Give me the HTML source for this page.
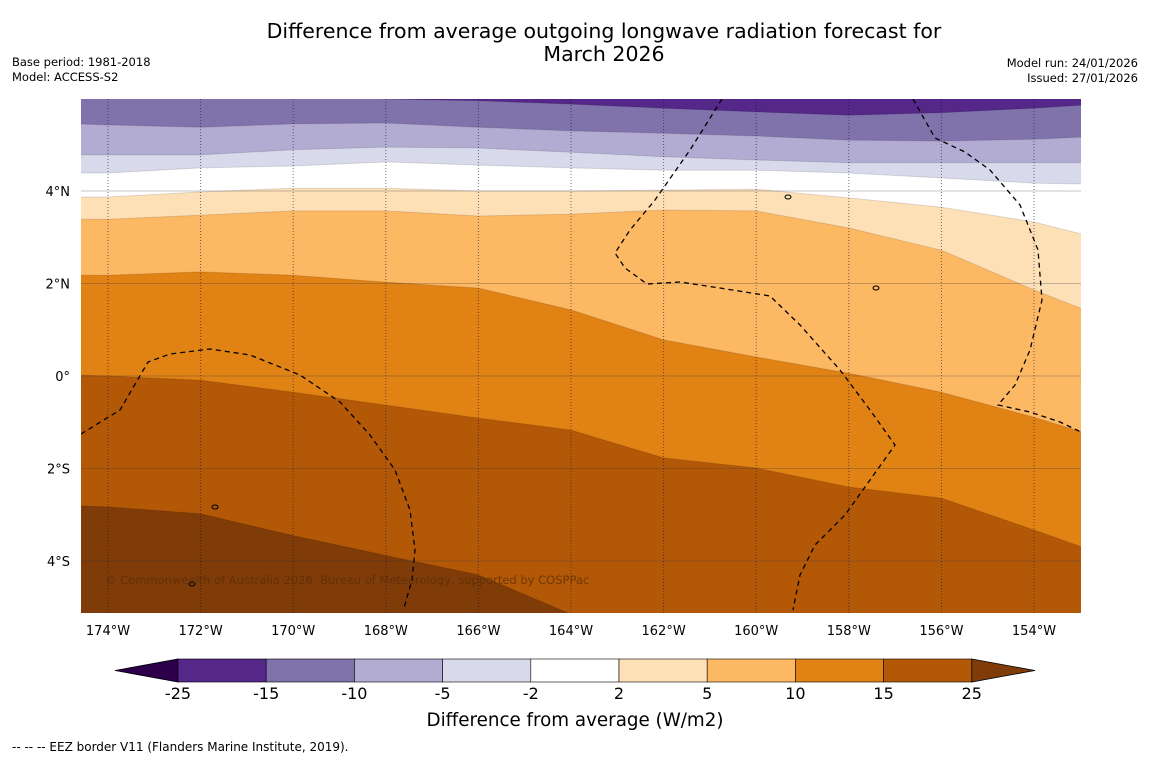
<!DOCTYPE html>
<html><head><meta charset="utf-8"><style>
body{margin:0;background:#fff;width:1150px;height:758px;overflow:hidden;font-family:"DejaVu Sans","Liberation Sans",sans-serif;}
</style></head><body>
<svg id="chart" width="1150" height="758" xmlns="http://www.w3.org/2000/svg" font-family="DejaVu Sans, Liberation Sans, sans-serif">
<text x="604" y="38" font-size="20.5" text-anchor="middle">Difference from average outgoing longwave radiation forecast for</text>
<text x="604" y="61" font-size="20.5" text-anchor="middle">March 2026</text>
<text x="12" y="66" font-size="11.5">Base period: 1981-2018</text>
<text x="12" y="81" font-size="11.5">Model: ACCESS-S2</text>
<text x="1138" y="67" font-size="11.5" text-anchor="end">Model run: 24/01/2026</text>
<text x="1138" y="82" font-size="11.5" text-anchor="end">Issued: 27/01/2026</text>
<defs><clipPath id="mapclip"><rect x="81" y="99" width="1000" height="514"/></clipPath></defs>
<g id="map" clip-path="url(#mapclip)"></g>
<g id="axes"></g>
<text x="105" y="584" font-size="11.5" fill="#5a2e05" fill-opacity="0.75">© Commonwealth of Australia 2026, Bureau of Meteorology, supported by COSPPac</text>
<g id="cbar"></g>
<text x="575" y="726" font-size="18.3" text-anchor="middle">Difference from average (W/m2)</text>
<text x="12" y="751" font-size="12">--  --  -- EEZ border V11 (Flanders Marine Institute, 2019).</text>
</svg>
<script>
const lons = [-174.6,-174,-172,-170,-168,-166,-164,-162,-160,-158,-156,-154,-152.9];
const levels = [-25,-15,-10,-5,-2,2,5,10,15,25];
const latM15 = [6.1,6.1,6.1,6.1,5.99,5.95,5.88,5.79,5.71,5.64,5.69,5.79,5.86];
const latM10 = [5.45,5.43,5.38,5.45,5.47,5.38,5.30,5.25,5.19,5.10,5.08,5.12,5.17];
const latM5 = [4.78,4.78,4.78,4.89,4.95,4.93,4.84,4.74,4.67,4.61,4.61,4.61,4.61];
const latM2 = [4.39,4.39,4.50,4.54,4.63,4.56,4.50,4.45,4.45,4.39,4.28,4.17,4.15];
const latP2 = [3.87,3.87,3.98,4.06,4.06,4.00,4.00,4.02,4.04,3.85,3.65,3.33,3.05];
const latP5 = [3.39,3.39,3.48,3.57,3.57,3.46,3.50,3.59,3.57,3.20,2.72,1.86,1.43];
const latP10 = [2.18,2.18,2.25,2.18,2.03,1.90,1.43,0.78,0.41,0.06,-0.35,-0.89,-1.23];
const latP15 = [0.02,0.0,-0.09,-0.35,-0.63,-0.91,-1.17,-1.77,-1.99,-2.40,-2.64,-3.33,-3.72];
const latP25 = [-2.81,-2.83,-2.98,-3.45,-3.88,-4.30,-5.15,-5.7,-5.9,-5.9,-5.9,-5.9,-5.9];
const bandColors = ["#2d004b","#542788","#8073ac","#b2abd2","#d8daeb","#ffffff","#fee0b6","#fdb863","#e08214","#b35806","#7f3b08"];
const lonTicks = [-174,-172,-170,-168,-166,-164,-162,-160,-158,-156,-154];
const latTicks = [4,2,0,-2,-4];
const cbarLabels = ["-25","-15","-10","-5","-2","2","5","10","15","25"];

const NS="http://www.w3.org/2000/svg";
const X = lon => 108 + (lon + 174) * 46.3;
const Y = lat => 191 - (lat - 4) * 46.25;
function mk(tag, attrs, parent){const e=document.createElementNS(NS,tag);for(const k in attrs)e.setAttribute(k,attrs[k]);parent.appendChild(e);return e;}
const map=document.getElementById('map'), axes=document.getElementById('axes'), cbar=document.getElementById('cbar');

const bg = mk('rect',{x:81,y:99,width:1000,height:514,fill:bandColors[1]},map);


const bounds=[latM15,latM10,latM5,latM2,latP2,latP5,latP10,latP15,latP25];
const bnames=['minus15','minus10','minus5','minus2','plus2','plus5','plus10','plus15','plus25'];
bounds.forEach((lats,i)=>{
  let d='M'+X(lons[0])+','+Y(lats[0]);
  for(let j=1;j<lons.length;j++) d+=' L'+X(lons[j]).toFixed(1)+','+Y(lats[j]).toFixed(1);
  d+=' L'+X(lons[lons.length-1])+',700 L'+X(lons[0])+',700 Z';
  const p=mk('path',{d:d,fill:bandColors[i+2],stroke:'rgba(0,0,0,0.12)','stroke-width':1},map);
  
  
});
latTicks.forEach(l=>{
  const g=mk('line',{x1:81,x2:1081,y1:Y(l),y2:Y(l),stroke:'rgba(60,60,80,0.3)','stroke-width':1},map);
  
  
});
lonTicks.forEach(l=>{
  const g=mk('line',{x1:X(l),x2:X(l),y1:99,y2:613,stroke:'rgba(20,20,60,0.6)','stroke-width':1,'stroke-dasharray':'1,2'},map);
  
  
});
const eez=["M81,434 L120,410 L148,362 L170,354 L210,349 L250,355 L300,375 L340,402 L370,435 L395,470 L410,510 L415,550 L412,580 L404,608",
"M722,99 L690,150 L655,200 L630,230 L615,253 L625,268 L647,284 L680,282 L720,288 L770,296 L800,325 L840,370 L870,410 L895,445 L870,480 L845,515 L815,545 L800,575 L793,610",
"M913,99 L935,138 L965,152 L990,170 L1020,205 L1038,250 L1042,300 L1030,350 L1015,385 L998,405 L1030,412 L1060,422 L1081,432"];
eez.forEach(d=>{
  const p=mk('path',{d:d,fill:'none',stroke:'#000','stroke-width':1.3,'stroke-dasharray':'5,4'},map);
  
  
});
[[788,197],[876,288],[215,507],[192,584]].forEach(c=>{
  const e=mk('ellipse',{cx:c[0],cy:c[1],rx:3,ry:2,fill:'none',stroke:'#000','stroke-width':1},map);
  
  
});
latTicks.forEach(l=>{
  const t=mk('text',{x:70,y:Y(l)+5,'font-size':13,'text-anchor':'end'},axes);
  t.textContent = l===0?'0°':(Math.abs(l)+'°'+(l>0?'N':'S'));
  
  
});
lonTicks.forEach(l=>{
  const t=mk('text',{x:X(l),y:635,'font-size':13,'text-anchor':'middle'},axes);
  t.textContent = Math.abs(l)+'°W';
  
  
});
const cx0=178, cw=88.2, cy=659, ch=23;
const lt=mk('polygon',{points:`115,${cy+ch/2} ${cx0},${cy} ${cx0},${cy+ch}`,fill:bandColors[0],stroke:'#000','stroke-width':0.8},cbar);


for(let i=0;i<9;i++){
  const r=mk('rect',{x:cx0+i*cw,y:cy,width:cw,height:ch,fill:bandColors[i+1],stroke:'#000','stroke-width':0.6},cbar);
  
  
}
const rt=mk('polygon',{points:`${cx0+9*cw},${cy} 1035,${cy+ch/2} ${cx0+9*cw},${cy+ch}`,fill:bandColors[10],stroke:'#000','stroke-width':0.8},cbar);


cbarLabels.forEach((s,i)=>{
  const t=mk('text',{x:cx0+i*cw,y:699,'font-size':16,'text-anchor':'middle'},cbar);
  t.textContent=s;
  
  
});
</script>
</body></html>
